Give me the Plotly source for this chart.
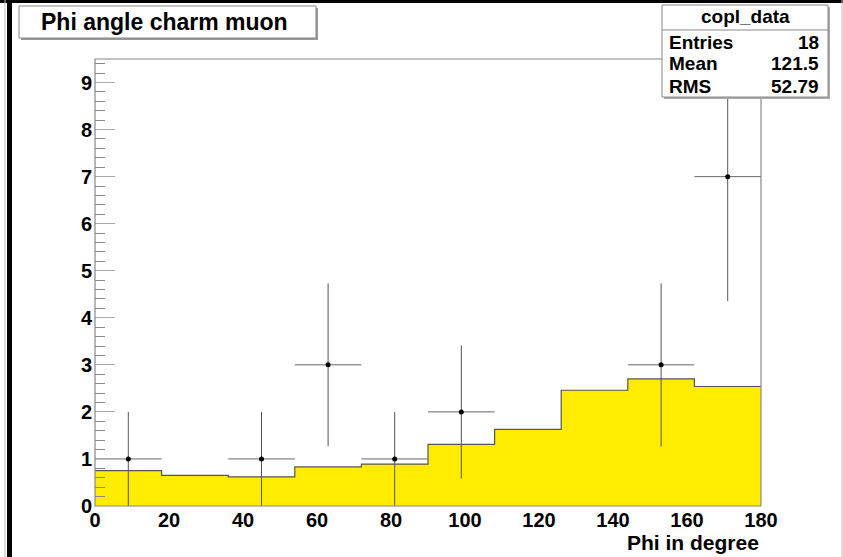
import plotly.graph_objects as go

# ---- data ----
bin_edges = [0, 18, 36, 54, 72, 90, 108, 126, 144, 162, 180]
mc_values = [0.75, 0.65, 0.62, 0.83, 0.89, 1.31, 1.63, 2.46, 2.70, 2.54]
data_counts = [1, 0, 1, 3, 1, 2, 0, 0, 3, 7]
x_ticks = [0, 20, 40, 60, 80, 100, 120, 140, 160, 180]
y_ticks = [0, 1, 2, 3, 4, 5, 6, 7, 8, 9]
title_text = "Phi angle charm muon"
x_label = "Phi in degree"
stats_name = "copl_data"
stats_rows = [("Entries", "18"), ("Mean", "121.5"), ("RMS", "52.79")]

# ---- geometry (pixels) ----
W, H = 843, 557
L, R, T, B = 95, 761, 59, 506
pw, ph = R - L, B - T


def px(x):
    return (x - L) / pw


def py(y):
    return (B - y) / ph


FONT = "Liberation Sans"

fig = go.Figure()

# MC histogram (step contour filled)
step_x = bin_edges[:-1] + [bin_edges[-1]]
step_y = mc_values + [mc_values[-1]]
fig.add_trace(go.Scatter(
    x=step_x, y=step_y, mode="lines", line=dict(shape="hv", color="#555555", width=1.2),
    fill="tozeroy", fillcolor="#ffec00", hoverinfo="skip", showlegend=False,
))

# data points with errors
cx, cy, ex, ey = [], [], [], []
for i, n in enumerate(data_counts):
    if n > 0:
        lo, hi = bin_edges[i], bin_edges[i + 1]
        cx.append((lo + hi) / 2)
        cy.append(n)
        ex.append((hi - lo) / 2)
        ey.append(n ** 0.5)
fig.add_trace(go.Scatter(
    x=cx, y=cy, mode="markers",
    marker=dict(color="black", size=5),
    error_x=dict(type="data", array=ex, color="#666666", thickness=1, width=0),
    error_y=dict(type="data", array=ey, color="#555555", thickness=1, width=0),
    showlegend=False,
))

shapes = []
# plot frame
shapes.append(dict(type="rect", xref="paper", yref="paper", x0=0, x1=1, y0=0, y1=1,
                   line=dict(color="#888888", width=1.2), layer="above"))
# title box shadow + box
shapes.append(dict(type="rect", xref="paper", yref="paper",
                   x0=px(21), x1=px(318), y0=py(40), y1=py(8),
                   line=dict(width=0), fillcolor="#999999", layer="above"))
shapes.append(dict(type="rect", xref="paper", yref="paper",
                   x0=px(19), x1=px(316), y0=py(38), y1=py(6),
                   line=dict(color="#888888", width=1), fillcolor="white", layer="above"))
# stats box shadow + box
shapes.append(dict(type="rect", xref="paper", yref="paper",
                   x0=px(664), x1=px(830), y0=py(99), y1=py(7),
                   line=dict(width=0), fillcolor="#aaaaaa", layer="above"))
shapes.append(dict(type="rect", xref="paper", yref="paper",
                   x0=px(662), x1=px(828), y0=py(97), y1=py(5),
                   line=dict(color="#888888", width=1), fillcolor="white", layer="above"))
shapes.append(dict(type="line", xref="paper", yref="paper",
                   x0=px(662), x1=px(828), y0=py(30), y1=py(30),
                   line=dict(color="#888888", width=1), layer="above"))
# window borders
shapes.append(dict(type="rect", xref="paper", yref="paper",
                   x0=px(0), x1=px(W), y0=py(3), y1=py(0),
                   line=dict(width=0), fillcolor="black", layer="above"))
shapes.append(dict(type="rect", xref="paper", yref="paper",
                   x0=px(7), x1=px(12), y0=py(H), y1=py(0),
                   line=dict(width=0), fillcolor="black", layer="above"))
shapes.append(dict(type="line", xref="paper", yref="paper",
                   x0=px(5), x1=px(5), y0=py(H), y1=py(0),
                   line=dict(color="#bbbbbb", width=1), layer="above"))
shapes.append(dict(type="line", xref="paper", yref="paper",
                   x0=px(842), x1=px(842), y0=py(H), y1=py(0),
                   line=dict(color="#bbbbbb", width=1), layer="above"))

ann = []
ann.append(dict(text=title_text, xref="paper", yref="paper", x=px(39), y=py(22),
                xanchor="left", yanchor="middle", showarrow=False,
                font=dict(family=FONT, size=23, color="black", weight="bold")))
ann.append(dict(text=stats_name, xref="paper", yref="paper", x=px(745), y=py(17),
                xanchor="center", yanchor="middle", showarrow=False,
                font=dict(family=FONT, size=19, color="black", weight="bold")))
for k, (lab, val) in enumerate(stats_rows):
    yy = py(42 + 22 * k)
    ann.append(dict(text=lab, xref="paper", yref="paper", x=px(667), y=yy,
                    xanchor="left", yanchor="middle", showarrow=False,
                    font=dict(family=FONT, size=19, color="black", weight="bold")))
    ann.append(dict(text=val, xref="paper", yref="paper", x=px(821), y=yy,
                    xanchor="right", yanchor="middle", showarrow=False,
                    font=dict(family=FONT, size=19, color="black", weight="bold")))
ann.append(dict(text=x_label, xref="paper", yref="paper", x=1, y=py(542),
                xanchor="right", yanchor="middle", showarrow=False,
                font=dict(family=FONT, size=21, color="black", weight="bold")))

tickfont = dict(family=FONT, size=20, color="black", weight="bold")
fig.update_layout(
    width=W, height=H,
    margin=dict(l=L, r=W - R, t=T, b=H - B),
    paper_bgcolor="white", plot_bgcolor="white",
    shapes=shapes, annotations=ann,
    xaxis=dict(range=[bin_edges[0], bin_edges[-1]], tickvals=x_ticks, ticks="",
               showgrid=False, zeroline=False, showline=False, tickfont=tickfont,
               fixedrange=True),
    yaxis=dict(range=[0, 9.5], tickvals=y_ticks, ticks="inside", ticklen=20,
               tickcolor="#aaaaaa", tickwidth=1, showgrid=False, zeroline=False,
               showline=False, tickfont=tickfont, ticklabelstandoff=2,
               minor=dict(dtick=0.2, ticks="inside", ticklen=10, tickcolor="#888888",
                          tickwidth=1),
               fixedrange=True),
)

fig.write_html("out.html")
